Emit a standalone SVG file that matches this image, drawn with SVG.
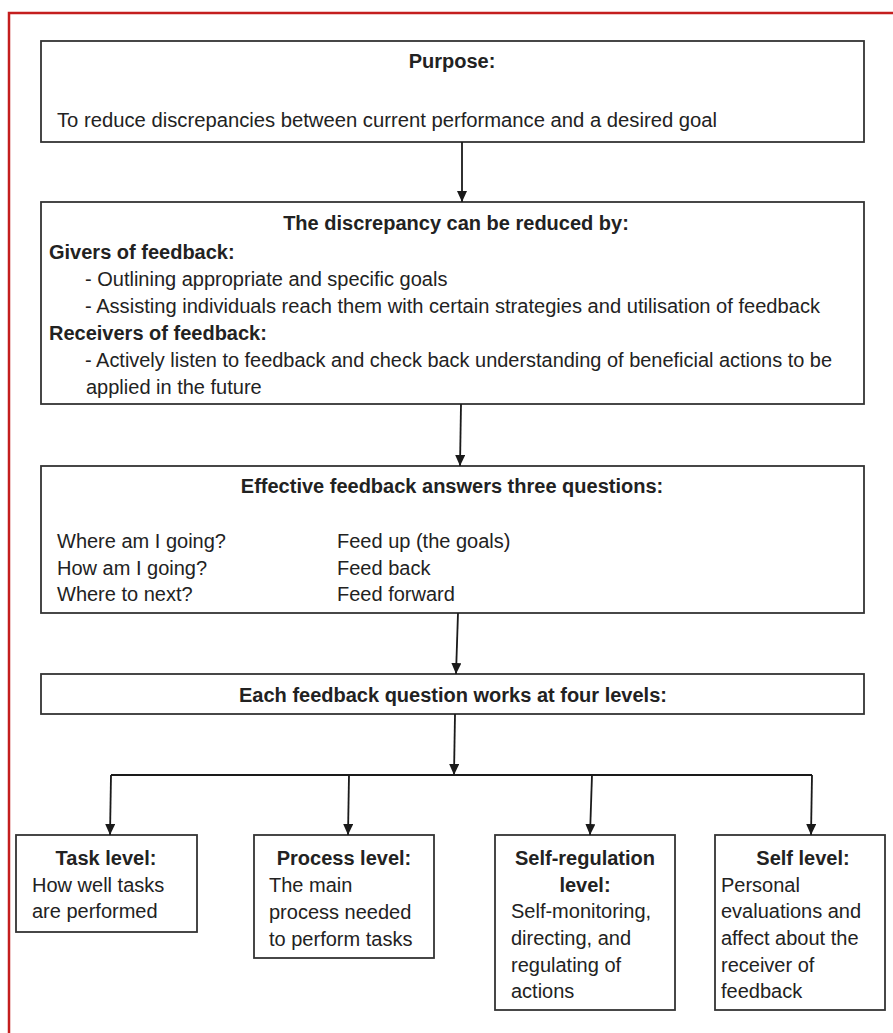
<svg xmlns="http://www.w3.org/2000/svg" width="893" height="1033" viewBox="0 0 893 1033">
<defs>
<marker id="ah" markerUnits="userSpaceOnUse" markerWidth="11" markerHeight="10" viewBox="0 0 11 10" refX="11" refY="5" orient="auto">
<path d="M0,0 L11,5 L0,10 Z" fill="#1a1a1a"/>
</marker>
</defs>
<style>
.box{fill:#ffffff;stroke:#333333;stroke-width:1.8}
.t{font-family:"Liberation Sans",Arial,sans-serif;font-size:20px;fill:#222222}
.b{font-weight:bold}
.c{text-anchor:middle}
.conn{fill:none;stroke:#1a1a1a;stroke-width:1.8}
</style>
<rect x="0" y="0" width="893" height="1033" fill="#ffffff"/>
<path d="M9,1033 L9,13 L893,13" fill="none" stroke="#c41e1e" stroke-width="2.5"/>

<g id="purpose">
<rect class="box" x="41" y="41" width="823" height="101"/>
<text class="t b c" x="452" y="68">Purpose:</text>
<text class="t" x="57" y="127" textLength="660" lengthAdjust="spacingAndGlyphs">To reduce discrepancies between current performance and a desired goal</text>
</g>

<g id="discrepancy">
<rect class="box" x="41" y="202" width="823" height="202"/>
<text class="t b c" x="456" y="230">The discrepancy can be reduced by:</text>
<text class="t b" x="49" y="259">Givers of feedback:</text>
<text class="t" x="85" y="286">- Outlining appropriate and specific goals</text>
<text class="t" x="85" y="313" textLength="735" lengthAdjust="spacingAndGlyphs">- Assisting individuals reach them with certain strategies and utilisation of feedback</text>
<text class="t b" x="49" y="340">Receivers of feedback:</text>
<text class="t" x="85" y="367" textLength="747" lengthAdjust="spacingAndGlyphs">- Actively listen to feedback and check back understanding of beneficial actions to be</text>
<text class="t" x="86" y="394">applied in the future</text>
</g>

<g id="questions">
<rect class="box" x="41" y="466" width="823" height="147"/>
<text class="t b c" x="452" y="493">Effective feedback answers three questions:</text>
<text class="t" x="57" y="548">Where am I going?</text>
<text class="t" x="57" y="575">How am I going?</text>
<text class="t" x="57" y="601">Where to next?</text>
<text class="t" x="337" y="548">Feed up (the goals)</text>
<text class="t" x="337" y="575">Feed back</text>
<text class="t" x="337" y="601">Feed forward</text>
</g>

<g id="levels">
<rect class="box" x="41" y="674" width="823" height="40"/>
<text class="t b c" x="453" y="702">Each feedback question works at four levels:</text>
</g>

<g id="task">
<rect class="box" x="16" y="835" width="181" height="97"/>
<text class="t b c" x="106" y="865">Task level:</text>
<text class="t" x="32" y="892">How well tasks</text>
<text class="t" x="32" y="918">are performed</text>
</g>

<g id="process">
<rect class="box" x="254" y="835" width="180" height="123"/>
<text class="t b c" x="344" y="865">Process level:</text>
<text class="t" x="269" y="892">The main</text>
<text class="t" x="269" y="919">process needed</text>
<text class="t" x="269" y="946">to perform tasks</text>
</g>

<g id="selfreg">
<rect class="box" x="495" y="835" width="180" height="175"/>
<text class="t b c" x="585" y="865">Self-regulation</text>
<text class="t b c" x="585" y="892">level:</text>
<text class="t" x="511" y="918">Self-monitoring,</text>
<text class="t" x="511" y="945">directing, and</text>
<text class="t" x="511" y="972">regulating of</text>
<text class="t" x="511" y="998">actions</text>
</g>

<g id="self">
<rect class="box" x="715" y="835" width="170" height="175"/>
<text class="t b c" x="803" y="865">Self level:</text>
<text class="t" x="721" y="892">Personal</text>
<text class="t" x="721" y="918">evaluations and</text>
<text class="t" x="721" y="945">affect about the</text>
<text class="t" x="721" y="972">receiver of</text>
<text class="t" x="721" y="998">feedback</text>
</g>

<g id="connectors">
<path class="conn" d="M462,142 L462,202" marker-end="url(#ah)"/>
<path class="conn" d="M461,404 L460,466" marker-end="url(#ah)"/>
<path class="conn" d="M458,613 L456,674" marker-end="url(#ah)"/>
<path class="conn" d="M455,714 L454,775" marker-end="url(#ah)"/>
<path class="conn" d="M111,775 L812,775"/>
<path class="conn" d="M111,775 L110,835" marker-end="url(#ah)"/>
<path class="conn" d="M349,775 L348,835" marker-end="url(#ah)"/>
<path class="conn" d="M592,775 L590,835" marker-end="url(#ah)"/>
<path class="conn" d="M812,775 L811,835" marker-end="url(#ah)"/>
</g>
</svg>
